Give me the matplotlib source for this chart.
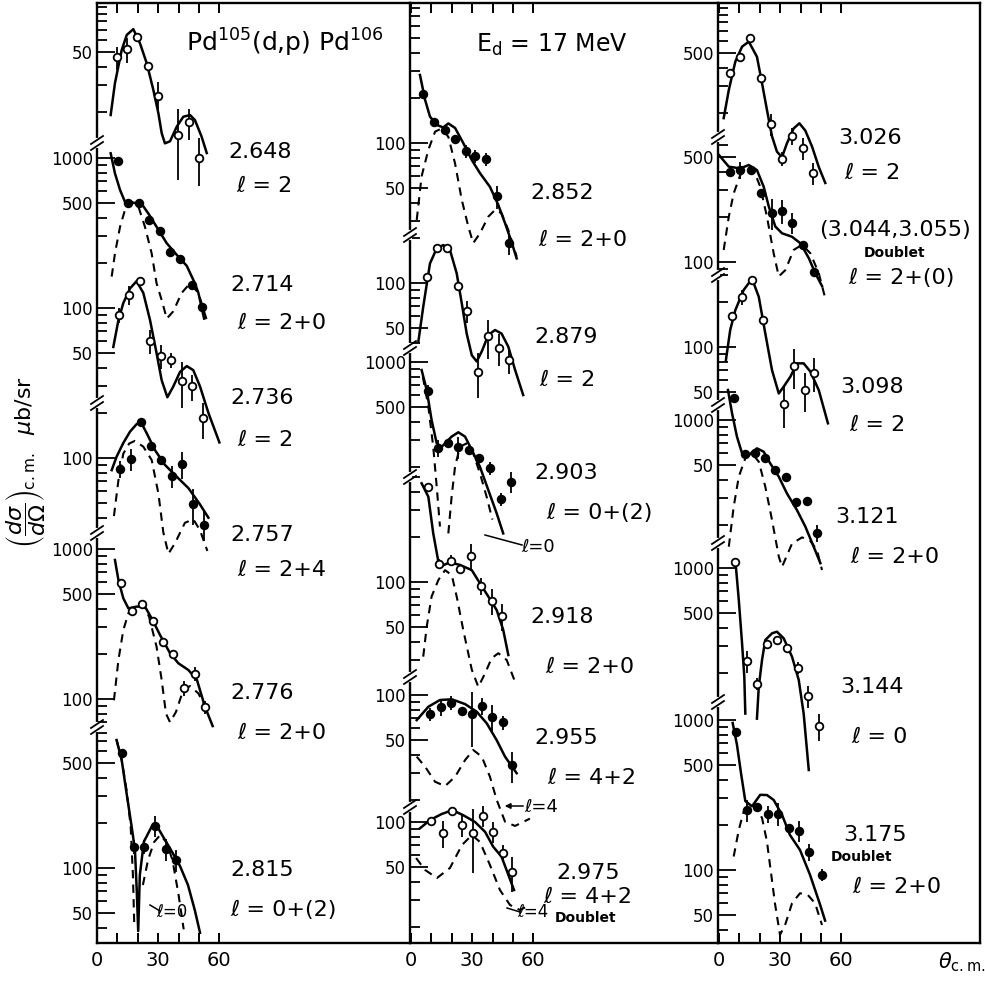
import numpy as np
import matplotlib
matplotlib.use('Agg')
import matplotlib.pyplot as plt
from matplotlib.lines import Line2D
from matplotlib.ticker import LogLocator, NullFormatter

# angular distributions, theta in degrees (c.m.), cross sections in microbarn/sr
# 2.648 MeV, l = 2
th_2648 = [9.7, 14.6, 19.5, 24.9, 29.8, 39.8, 45.1, 50.1]
cs_2648 = [46, 52, 63, 40.5, 25.6, 14, 17, 9.9]
dcs_2648 = [8, 10, 0, 0, 6, 7, 4, 3.5]
fth_2648 = [6.7, 8.8, 12.1, 14.6, 17.8, 21.1, 24.4, 27.6, 30.1, 31.7, 33.3, 35.8, 39.1, 42.3, 45.6, 48.0, 51.3, 53.8]
fit_2648 = [19, 31, 51.5, 65, 71, 57, 42, 28, 19.5, 14.4, 12.3, 12.7, 15.9, 18.5, 19, 17.6, 13.6, 10.6]

# 2.714 MeV, l = 2+0
th_2714 = [10.5, 15.4, 20.7, 25.6, 30.9, 35.8, 40.7, 46.4, 51.3]
cs_2714 = [955, 499, 499, 386, 328, 237, 211, 142, 102]
dcs_2714 = [0, 0, 0, 0, 0, 0, 0, 0, 0]
fth_2714 = [6.7, 8.8, 11.3, 13.7, 17.8, 21.9, 25.1, 29.2, 34.2, 39.1, 44.0, 48.0, 49.7, 52.5]
fit_2714 = [1075, 790, 612, 511, 503, 494, 428, 348, 270, 226, 191, 146, 126, 85]
dth_2714 = [7.2, 8.8, 11.3, 13.7, 16.9, 20.3, 23.5, 26.8, 29.2, 31.7, 34.2, 37.4, 41.5, 45.6, 49.7, 53.8]
dash_2714 = [162, 231, 348, 450, 511, 474, 348, 231, 146, 113, 85, 95, 126, 146, 126, 83]

# 2.736 MeV, l = 2
th_2736 = [10.9, 15.8, 21.1, 26.0, 31.2, 36.1, 41.5, 46.7, 51.8]
cs_2736 = [90, 122, 151, 60.5, 48, 45, 32.7, 30, 18.4]
dcs_2736 = [10, 18, 5, 11, 9, 5, 11, 6, 5]
fth_2736 = [8.0, 10.5, 12.9, 16.2, 19.4, 22.7, 26.0, 29.2, 31.7, 34.5, 37.4, 40.7, 44.0, 47.2, 50.5, 54.6, 60.0]
fit_2736 = [55, 83, 108, 135, 151, 126, 83, 50, 33, 25.4, 30, 37.5, 41, 38.5, 30, 20, 12.7]

# 2.757 MeV, l = 2+4
th_2757 = [11.3, 16.5, 21.4, 26.3, 31.4, 36.6, 41.8, 47.2, 52.3]
cs_2757 = [85, 98, 175, 121, 97, 76, 91, 49, 36]
dcs_2757 = [11, 16, 8, 6, 6, 13, 18, 13, 8]
fth_2757 = [7.2, 9.6, 12.9, 16.2, 19.4, 21.4, 24.4, 28.4, 33.3, 39.1, 44.8, 50.5, 54.6]
fit_2757 = [83, 102, 126, 150, 168, 175, 146, 113, 90, 75, 63, 49, 40]
dth_2757 = [8.3, 10.5, 12.9, 15.8, 18.6, 22.7, 26.8, 30.1, 32.5, 35.0, 38.2, 43.1, 47.2, 50.5, 54.1]
dash_2757 = [41, 71, 107, 125, 130, 119, 97, 58, 32, 23, 27, 37, 39, 33, 24]

# 2.776 MeV, l = 2+0
th_2776 = [11.8, 17.0, 22.2, 27.3, 32.5, 37.4, 42.8, 48.0, 52.9]
cs_2776 = [597, 386, 428, 331, 241, 200, 118, 147, 88]
dcs_2776 = [0, 0, 0, 0, 0, 0, 13, 16, 9]
fth_2776 = [8.8, 10.5, 12.9, 15.4, 19.4, 23.5, 26.8, 30.9, 35.8, 39.9, 44.8, 49.0, 52.9, 56.7]
fit_2776 = [845, 621, 469, 402, 413, 413, 345, 267, 202, 173, 156, 134, 89, 66]
dth_2776 = [8.3, 10.5, 12.9, 15.4, 18.6, 22.7, 25.5, 29.2, 31.7, 33.8, 35.8, 38.7, 42.3, 45.6, 49.7, 53.8]
dash_2776 = [98, 182, 288, 373, 413, 423, 354, 223, 134, 80, 70, 82, 115, 122, 109, 85]

# 2.815 MeV, l = 0+(2)
th_2815 = [12.4, 18.3, 23.0, 28.4, 33.8, 38.7]
cs_2815 = [587, 139, 139, 191, 134, 113]
dcs_2815 = [0, 15, 15, 30, 22, 19]
fth_2815 = [9.6, 12.1, 14.5, 17.0, 18.6, 19.5, 20.2, 21.0, 23.0, 27.0, 29.9, 33.3, 36.8, 40.7, 44.6, 48.0, 50.5]
fit_2815 = [713, 525, 315, 188, 132, 70, 38, 90, 150, 191, 185, 154, 128, 103, 77, 52, 37]
dth_2815a = [9.6, 12.1, 14.5, 16.5, 17.6, 18.3]
dash_2815a = [713, 525, 330, 190, 90, 40]
dth_2815b = [22.5, 25, 28, 31, 34, 37, 40, 42.5]
dash_2815b = [77, 113, 149, 166, 149, 113, 66, 39]

# 2.852 MeV, l = 2+0
th_2852 = [6.0, 11.4, 16.7, 21.6, 26.8, 31.4, 36.6, 42.3, 48.0]
cs_2852 = [211, 139, 122, 107, 88.5, 82, 78, 44, 21.4]
dcs_2852 = [0, 0, 0, 6, 9, 8, 8, 7.5, 3.6]
fth_2852 = [4.4, 6.9, 9.3, 12.6, 15.8, 18.3, 21.6, 25.6, 29.8, 33.8, 38.7, 42.8, 46.1, 49.0, 51.8]
fit_2852 = [284, 194, 150, 132, 127, 135, 126, 100, 77, 63, 51, 38.6, 29.2, 22.5, 17]
dth_2852 = [2.8, 5.2, 8.5, 11.8, 15.0, 18.3, 21.6, 24.9, 28.1, 30.5, 33.8, 37.9, 41.2, 44.4, 47.7, 51.8]
dash_2852 = [30.7, 60, 90, 119, 125, 110, 73, 41.7, 27.7, 21.5, 25, 32.3, 35.8, 34, 26.3, 17.5]

# 2.879 MeV, l = 2
th_2879 = [7.7, 12.6, 17.5, 22.9, 27.6, 33.0, 37.9, 43.1, 48.2]
cs_2879 = [109, 170, 170, 95.5, 65, 25.6, 44, 37, 30.7]
dcs_2879 = [0, 0, 0, 0, 11, 8.5, 13, 9, 6]
fth_2879 = [3.6, 6.0, 9.3, 12.6, 15.8, 19.1, 22.4, 24.9, 27.3, 29.8, 32.2, 34.7, 37.9, 41.2, 44.4, 47.7, 51.0, 55.0]
fit_2879 = [40.6, 69.5, 135, 170, 179, 166, 116, 73, 46, 33, 30, 35, 45, 48.6, 46, 37.6, 26.4, 17.9]

# 2.903 MeV, l = 0+(2)
th_2903 = [8.3, 13.4, 18.3, 23.2, 28.4, 33.5, 38.7, 44.0, 49.0]
cs_2903 = [640, 266, 287, 270, 259, 228, 196, 122, 159]
dcs_2903 = [60, 35, 0, 45, 0, 0, 20, 12, 26]
fth_2903 = [5.2, 7.7, 10.1, 12.6, 15.0, 19.9, 23.2, 26.5, 29.8, 33.8, 37.9, 42.0, 45.2]
fit_2903 = [884, 651, 410, 287, 272, 318, 340, 318, 259, 200, 140, 98, 72]
dth_2903a = [5.8, 8.5, 10.9, 12.6, 14.2]
dash_2903a = [798, 504, 272, 148, 80]
dth_2903b = [18.3, 19.9, 21.6, 24.0, 27.3, 30.5, 33.8, 37.1, 39.9]
dash_2903b = [72, 126, 201, 272, 287, 246, 181, 126, 89]

# 2.918 MeV, l = 2+0
th_2918 = [8.5, 13.9, 19.4, 24.0, 29.4, 34.3, 39.5, 44.8]
cs_2918 = [428, 132, 139, 123, 149, 94, 75, 59]
dcs_2918 = [0, 10, 12, 0, 30, 12, 15, 12]
fth_2918 = [5.2, 8.5, 10.9, 13.4, 15.0, 19.0, 24.0, 29.8, 33.8, 37.9, 42.0, 45.2, 47.7]
fit_2918 = [455, 370, 211, 137, 128, 135, 130, 120, 98, 80, 65, 48, 32.6]
dth_2918 = [6.0, 7.7, 10.1, 13.4, 16.7, 20.0, 22.4, 25.6, 29.8, 33.0, 36.3, 39.5, 42.8, 46.9, 51.0]
dash_2918 = [31.8, 50.3, 80, 103, 120, 111, 80, 48, 26, 20, 24.6, 31, 33.5, 30.2, 21.6]

# 2.955 MeV, l = 4+2
th_2955 = [9.3, 14.7, 19.6, 24.9, 29.8, 35.0, 39.9, 44.9, 49.7]
cs_2955 = [74.7, 83.6, 88.9, 78.6, 74.7, 84.8, 71.7, 65.7, 34]
dcs_2955 = [7.5, 11, 9, 5, 30, 11, 14, 7, 8]
fth_2955 = [2.8, 8.5, 14.2, 20.0, 26.5, 32.2, 37.1, 42.0, 46.1, 51.8]
fit_2955 = [68, 83.5, 92.6, 93.6, 87, 77.4, 64.8, 50, 38.8, 30.1]
dth_2955 = [2.8, 6.9, 11.8, 16.7, 21.6, 26.5, 30.5, 34.7, 38.7, 42.0, 46.1, 51.0, 58.3]
dash_2955 = [38.8, 33.3, 26.4, 24.7, 28.5, 36.8, 43, 38.8, 28.5, 20, 14.3, 13.4, 15]

# 2.975 MeV doublet, l = 4+2
th_2975 = [9.8, 15.5, 20.3, 25.1, 30.2, 35.4, 40.3, 44.9, 49.5]
cs_2975 = [102, 84, 118, 95.5, 84, 110, 86, 62.4, 46.4]
dcs_2975 = [0, 17, 8, 16, 38, 18, 14, 8, 12]
fth_2975 = [4.4, 9.3, 15.0, 20.3, 25.6, 31.4, 36.3, 40.3, 44.4, 50.5]
fit_2975 = [90.8, 103, 113, 120, 111, 100, 86, 68.4, 58.7, 35.2]
dth_2975 = [2.5, 6.9, 12.7, 19.1, 25.0, 29.9, 33.8, 38.7, 43.6, 48.5, 53.4, 58.3]
dash_2975 = [57.5, 47.9, 42.3, 49.4, 70.3, 81.9, 73.6, 51.7, 35.2, 28, 25.9, 28]

# 3.026 MeV, l = 2
th_3026 = [5.5, 10.4, 15.3, 20.6, 25.6, 30.9, 35.8, 41.0, 45.9]
cs_3026 = [366, 467, 632, 342, 167, 99, 140, 116, 79]
dcs_3026 = [0, 0, 0, 0, 28, 11, 18, 19, 13]
fth_3026 = [2.3, 4.8, 8.0, 11.3, 14.6, 18.6, 21.1, 23.5, 26.0, 28.4, 30.9, 33.3, 36.6, 39.4, 42.3, 45.6, 48.9, 52.1]
fit_3026 = [184, 283, 438, 551, 595, 472, 314, 209, 139, 110, 101, 125, 157, 170, 152, 119, 87, 68]

# (3.044, 3.055) MeV doublet, l = 2+(0)
th_3044 = [5.5, 10.4, 15.8, 20.7, 26.0, 30.9, 35.8, 41.0, 46.4]
cs_3044 = [395, 409, 409, 287, 213, 219, 182, 130, 85]
dcs_3044 = [0, 53, 0, 0, 50, 40, 29, 0, 0]
fth_3044 = [0.0, 4.8, 10.4, 14.6, 18.6, 21.9, 24.4, 27.6, 30.9, 35.8, 39.9, 44.0, 47.2, 50.5]
fit_3044 = [515, 431, 420, 442, 409, 317, 234, 172, 155, 147, 133, 106, 84, 69]
dth_3044 = [2.3, 4.8, 7.2, 10.4, 13.7, 17.0, 20.2, 23.5, 26.8, 29.3, 32.5, 36.6, 40.7, 44.8, 48.9, 52.1]
dash_3044 = [120, 200, 286, 379, 420, 409, 317, 200, 114, 80, 88, 120, 130, 114, 84, 57]

# 3.098 MeV, l = 2
th_3098 = [6.4, 11.3, 16.2, 21.4, 31.7, 36.6, 42.0, 46.4]
cs_3098 = [162, 216, 280, 151, 41.7, 74.7, 51.6, 67.4]
dcs_3098 = [0, 24, 0, 0, 13, 22, 15, 17]
fth_3098 = [3.4, 5.5, 8.0, 12.1, 16.2, 19.5, 22.7, 26.0, 29.3, 31.7, 35.0, 38.2, 41.5, 44.8, 48.9, 53.4]
fit_3098 = [82, 130, 176, 240, 285, 216, 123, 70, 49, 54.4, 63.4, 77.8, 77.8, 68.5, 51.6, 31]

# 3.121 MeV, l = 2+0
th_3121 = [7.2, 12.6, 17.5, 22.4, 27.6, 32.8, 37.7, 43.1, 48.0]
cs_3121 = [1395, 593, 606, 555, 464, 419, 285, 290, 176]
dcs_3121 = [0, 0, 0, 0, 0, 0, 0, 0, 23]
fth_3121 = [4.4, 6.4, 8.8, 11.3, 14.6, 18.6, 21.9, 25.1, 29.3, 33.3, 38.2, 42.3, 46.4, 49.7]
fit_3121 = [1585, 1108, 774, 600, 584, 647, 615, 514, 419, 324, 251, 195, 143, 111]
dth_3121 = [4.8, 7.2, 9.7, 12.9, 16.2, 19.5, 22.7, 26.0, 29.3, 30.9, 35.8, 40.7, 44.8, 48.0, 50.5]
dash_3121 = [143, 264, 419, 555, 600, 527, 359, 215, 123, 105, 150, 165, 156, 136, 100]

# 3.144 MeV, l = 0
th_3144 = [8.0, 13.7, 18.6, 23.5, 28.4, 33.3, 38.6, 43.6, 48.9]
cs_3144 = [1101, 241, 169, 311, 331, 292, 215, 140, 88.5]
dcs_3144 = [0, 40, 15, 0, 20, 0, 20, 23, 18]
fth_3144a = [8.0, 9.7, 11.3, 12.4, 12.9]
fit_3144a = [1131, 612, 315, 189, 107]
fth_3144b = [18.6, 19.5, 21.1, 22.7, 26.0, 28.4, 31.7, 35.8, 39.1, 41.5, 44.0]
fit_3144b = [99, 162, 244, 331, 367, 376, 340, 256, 179, 107, 45]

# 3.175 MeV doublet, l = 2+0
th_3175 = [8.3, 13.7, 18.6, 24.0, 28.9, 34.2, 39.1, 44.0, 50.5]
cs_3175 = [836, 251, 262, 238, 238, 190, 183, 132, 93]
dcs_3175 = [0, 42, 0, 31, 40, 0, 30, 17, 9]
fth_3175 = [6.7, 8.8, 10.9, 12.9, 16.2, 20.2, 23.5, 26.8, 30.9, 34.8, 39.7, 44.6, 49.5, 52.0]
fit_3175 = [955, 684, 432, 288, 266, 317, 316, 293, 233, 171, 136, 93, 59, 46]
dth_3175 = [7.2, 9.7, 12.1, 15.3, 18.0, 21.1, 23.5, 27.5, 29.9, 32.4, 35.8, 39.7, 43.6, 47.1, 50.5]
dash_3175 = [123, 185, 246, 272, 268, 222, 155, 59, 37, 43, 60, 70, 68, 60, 43]

# ---------------------------------------------------------------------------
W, H = 985, 981
PX_DEG = 2.04      # pixels per degree
PX_DEC = 150.0     # pixels per decade
TOP, BOT = 3, 943

plt.rcParams['font.family'] = ['DejaVu Sans']
plt.rcParams['mathtext.fontset'] = 'dejavusans'

fig = plt.figure(figsize=(W / 100, H / 100), dpi=100)


def rect(x0, y0, x1, y1):
    return [x0 / W, 1 - y1 / H, (x1 - x0) / W, (y1 - y0) / H]


# left edge, right edge, pixel of theta = 0
columns = [(97, 410, 97), (410, 718, 411), (718, 980, 719)]

for i, (xl, xr, x0) in enumerate(columns):
    ax = fig.add_axes(rect(xl, TOP, xr, BOT))
    ax.set_xlim((xl - x0) / PX_DEG, (xr - x0) / PX_DEG)
    ax.set_ylim(0, 1)
    ax.set_yticks([])
    ax.set_xticks([0, 30, 60])
    ax.set_xticks([10, 20, 40, 50], minor=True)
    ax.tick_params(axis='x', which='both', direction='in', top=True, bottom=True,
                   length=7, width=1.4, labelsize=14, pad=6)
    ax.spines['right'].set_visible(i == 2)
    for s in ax.spines.values():
        s.set_linewidth(1.7)

# sub-panels: column, top px, bottom px, reference value, its px, labelled ticks
segments = {
    'L1': (0, 3, 143, 50, 52, [(50, '50')]),
    'L2': (0, 143, 403, 1000, 158, [(1000, '1000'), (500, '500'), (100, '100'), (50, '50')]),
    'L3': (0, 403, 533, 100, 458, [(100, '100')]),
    'L4': (0, 533, 727, 1000, 549, [(1000, '1000'), (500, '500'), (100, '100')]),
    'L5': (0, 727, 943, 100, 868, [(500, '500'), (100, '100'), (50, '50')]),
    'M1': (1, 3, 235, 100, 143, [(100, '100'), (50, '50')]),
    'M2': (1, 235, 348, 100, 283, [(100, '100'), (50, '50')]),
    'M3': (1, 348, 477, 1000, 362, [(1000, '1000'), (500, '500')]),
    'M4': (1, 477, 677, 100, 582, [(100, '100'), (50, '50')]),
    'M5': (1, 677, 807, 100, 695, [(100, '100'), (50, '50')]),
    'M6': (1, 807, 943, 100, 822, [(100, '100'), (50, '50')]),
    'R1': (2, 3, 137, 500, 53, [(500, '500')]),
    'R2': (2, 137, 275, 500, 157, [(500, '500'), (100, '100')]),
    'R3': (2, 275, 405, 100, 347, [(100, '100'), (50, '50')]),
    'R4': (2, 405, 543, 1000, 420, [(1000, '1000'), (500, '50')]),
    'R5': (2, 543, 702, 1000, 568, [(1000, '1000'), (500, '500')]),
    'R6': (2, 702, 943, 1000, 720, [(1000, '1000'), (500, '500'), (100, '100'), (50, '50')]),
}

seg_axes = {}
for key, (col, top, bot, ref_v, ref_y, ticks) in segments.items():
    xl, xr, x0 = columns[col]
    ax = fig.add_axes(rect(xl, top, xr, bot))
    ax.set_xlim((xl - x0) / PX_DEG, (xr - x0) / PX_DEG)
    ax.set_yscale('log')
    ax.set_ylim(ref_v * 10 ** ((ref_y - bot) / PX_DEC), ref_v * 10 ** ((ref_y - top) / PX_DEC))
    ax.patch.set_visible(False)
    for s in ax.spines.values():
        s.set_visible(False)
    ax.set_xticks([])
    ax.set_yticks([v for v, _ in ticks], labels=[t for _, t in ticks])
    ax.yaxis.set_minor_locator(LogLocator(base=10, subs=np.arange(1, 10)))
    ax.yaxis.set_minor_formatter(NullFormatter())
    ax.tick_params(axis='y', which='both', direction='in', width=1.3, labelsize=12, pad=3)
    ax.tick_params(axis='y', which='major', length=13)
    ax.tick_params(axis='y', which='minor', length=7)
    seg_axes[key] = ax

levels = [
    ('L1', th_2648, cs_2648, dcs_2648, True, [(fth_2648, fit_2648)], []),
    ('L2', th_2714, cs_2714, dcs_2714, False, [(fth_2714, fit_2714)], [(dth_2714, dash_2714)]),
    ('L2', th_2736, cs_2736, dcs_2736, True, [(fth_2736, fit_2736)], []),
    ('L3', th_2757, cs_2757, dcs_2757, False, [(fth_2757, fit_2757)], [(dth_2757, dash_2757)]),
    ('L4', th_2776, cs_2776, dcs_2776, True, [(fth_2776, fit_2776)], [(dth_2776, dash_2776)]),
    ('L5', th_2815, cs_2815, dcs_2815, False, [(fth_2815, fit_2815)],
     [(dth_2815a, dash_2815a), (dth_2815b, dash_2815b)]),
    ('M1', th_2852, cs_2852, dcs_2852, False, [(fth_2852, fit_2852)], [(dth_2852, dash_2852)]),
    ('M2', th_2879, cs_2879, dcs_2879, True, [(fth_2879, fit_2879)], []),
    ('M3', th_2903, cs_2903, dcs_2903, False, [(fth_2903, fit_2903)],
     [(dth_2903a, dash_2903a), (dth_2903b, dash_2903b)]),
    ('M4', th_2918, cs_2918, dcs_2918, True, [(fth_2918, fit_2918)], [(dth_2918, dash_2918)]),
    ('M5', th_2955, cs_2955, dcs_2955, False, [(fth_2955, fit_2955)], [(dth_2955, dash_2955)]),
    ('M6', th_2975, cs_2975, dcs_2975, True, [(fth_2975, fit_2975)], [(dth_2975, dash_2975)]),
    ('R1', th_3026, cs_3026, dcs_3026, True, [(fth_3026, fit_3026)], []),
    ('R2', th_3044, cs_3044, dcs_3044, False, [(fth_3044, fit_3044)], [(dth_3044, dash_3044)]),
    ('R3', th_3098, cs_3098, dcs_3098, True, [(fth_3098, fit_3098)], []),
    ('R4', th_3121, cs_3121, dcs_3121, False, [(fth_3121, fit_3121)], [(dth_3121, dash_3121)]),
    ('R5', th_3144, cs_3144, dcs_3144, True, [(fth_3144a, fit_3144a), (fth_3144b, fit_3144b)], []),
    ('R6', th_3175, cs_3175, dcs_3175, False, [(fth_3175, fit_3175)], [(dth_3175, dash_3175)]),
]

for key, th, cs, dcs, hollow, fits, dashes in levels:
    ax = seg_axes[key]
    for fth, fv in fits:
        ax.plot(fth, fv, color='black', lw=1.8, clip_on=False, zorder=2)
    for dth, dv in dashes:
        ax.plot(dth, dv, color='black', lw=1.5, ls=(0, (4, 3)), clip_on=False, zorder=2)
    eb = ax.errorbar(th, cs, yerr=dcs, fmt='o', ms=5.5, mfc='white' if hollow else 'black',
                     mec='black', mew=1.3, ecolor='black', elinewidth=1.3, capsize=0, zorder=3)
    for art in eb.get_children():
        art.set_clip_on(False)


def axis_break(x, y):
    fx = lambda px: px / W
    fy = lambda py: 1 - py / H
    fig.add_artist(Line2D([fx(x), fx(x)], [fy(y - 3), fy(y + 3)], color='white', lw=3,
                          transform=fig.transFigure, zorder=5))
    for dy in (-3, 3):
        fig.add_artist(Line2D([fx(x - 6), fx(x + 6)], [fy(y + dy + 4), fy(y + dy - 4)],
                              color='black', lw=1.3, transform=fig.transFigure, zorder=6))


for y in (143, 403, 533, 727):
    axis_break(97, y)
for y in (235, 348, 477, 677, 807):
    axis_break(410, y)
for y in (137, 275, 405, 543, 702):
    axis_break(718, y)


def label(x, y, s, size=16, **kw):
    fig.text(x / W, 1 - y / H, s, ha='center', va='center', fontsize=size, **kw)


level_labels = [
    (260, 152, '2.648'), (264, 186, 'ℓ = 2'),
    (262, 285, '2.714'), (282, 323, 'ℓ = 2+0'),
    (262, 398, '2.736'), (265, 440, 'ℓ = 2'),
    (262, 535, '2.757'), (282, 570, 'ℓ = 2+4'),
    (262, 693, '2.776'), (282, 733, 'ℓ = 2+0'),
    (262, 870, '2.815'), (284, 910, 'ℓ = 0+(2)'),
    (562, 193, '2.852'), (583, 240, 'ℓ = 2+0'),
    (566, 337, '2.879'), (567, 380, 'ℓ = 2'),
    (566, 473, '2.903'), (600, 513, 'ℓ = 0+(2)'),
    (562, 617, '2.918'), (590, 667, 'ℓ = 2+0'),
    (566, 738, '2.955'), (592, 778, 'ℓ = 4+2'),
    (588, 873, '2.975'), (588, 897, 'ℓ = 4+2'),
    (870, 138, '3.026'), (872, 173, 'ℓ = 2'),
    (895, 230, '(3.044,3.055)'), (902, 278, 'ℓ = 2+(0)'),
    (872, 387, '3.098'), (877, 425, 'ℓ = 2'),
    (867, 517, '3.121'), (895, 557, 'ℓ = 2+0'),
    (872, 687, '3.144'), (880, 737, 'ℓ = 0'),
    (875, 835, '3.175'), (897, 887, 'ℓ = 2+0'),
]
for x, y, s in level_labels:
    label(x, y, s)
for x, y in ((586, 918), (895, 253), (862, 857)):
    label(x, y, 'Doublet', size=10, fontweight='bold')

# markers for the single-l components
label(172, 912, 'ℓ=0', size=12)
label(538, 547, 'ℓ=0', size=13)
label(541, 807, 'ℓ=4', size=13)
label(533, 912, 'ℓ=4', size=12)
fig.add_artist(Line2D([485 / W, 522 / W], [1 - 535 / H, 1 - 545 / H], color='black', lw=1.1,
                      transform=fig.transFigure))
fig.add_artist(Line2D([150 / W, 160 / W], [1 - 905 / H, 1 - 911 / H], color='black', lw=1.1,
                      transform=fig.transFigure))
fig.add_artist(Line2D([507 / W, 520 / W], [1 - 908 / H, 1 - 912 / H], color='black', lw=1.1,
                      transform=fig.transFigure))
plt.annotate('', xy=(502 / W, 1 - 806 / H), xycoords='figure fraction',
             xytext=(526 / W, 1 - 806 / H), textcoords='figure fraction',
             arrowprops=dict(arrowstyle='-|>', lw=1.1, color='black', mutation_scale=8))

label(285, 43, r'Pd$^{105}$(d,p) Pd$^{106}$', size=18)
label(552, 45, r'E$_{\mathrm{d}}$ = 17 MeV', size=17)
label(26, 462, r'$\left(\dfrac{d\sigma}{d\Omega}\right)_{\mathrm{c.m.}}\ \ \mu$b/sr', size=16, rotation=90)
label(962, 962, r'$\theta_{\mathrm{c.m.}}$', size=15)

fig.savefig('out.png', dpi=100)
